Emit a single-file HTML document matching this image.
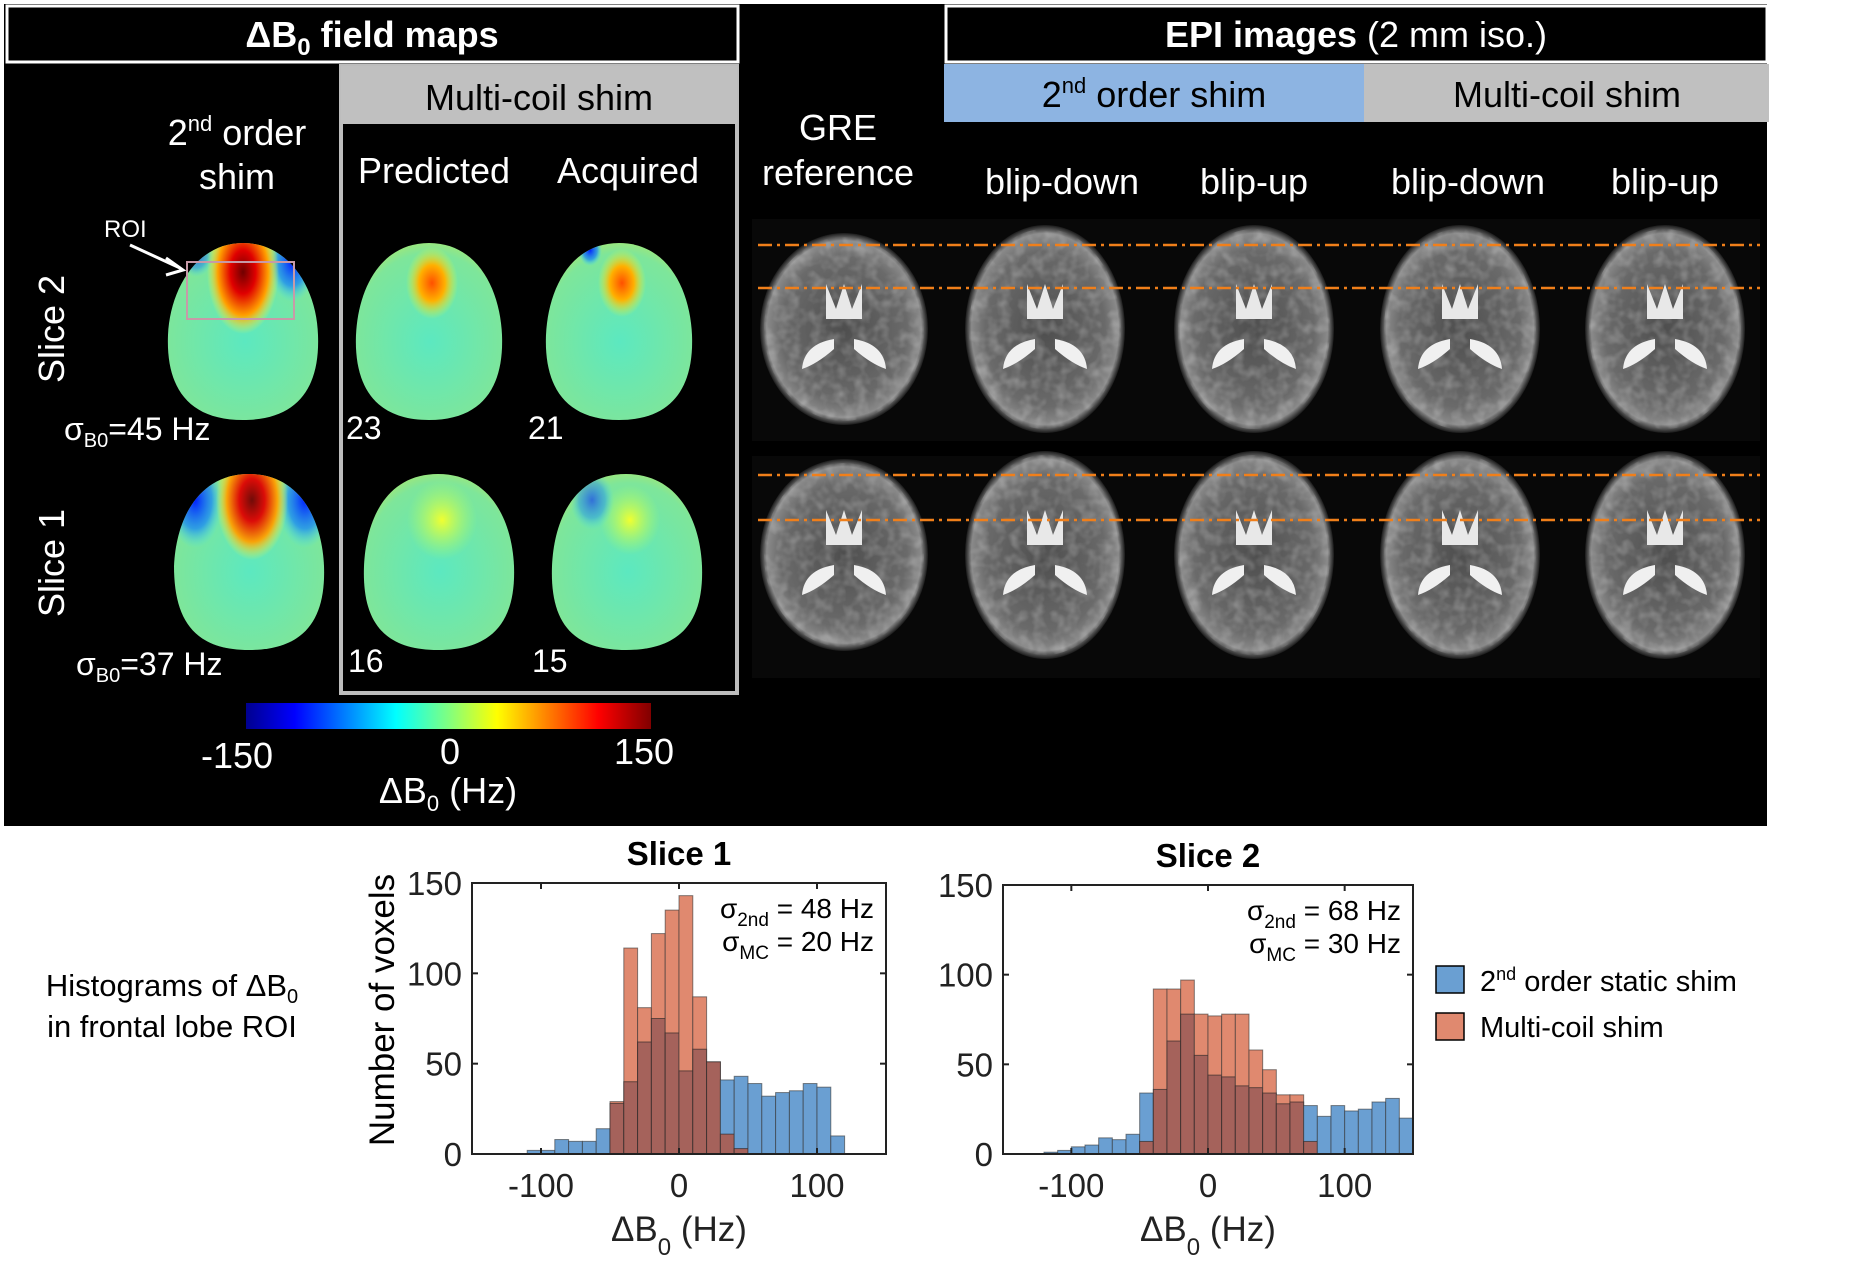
<!DOCTYPE html>
<html><head><meta charset="utf-8">
<style>
html,body{margin:0;padding:0;background:#fff;}
body{width:1854px;height:1262px;position:relative;overflow:hidden;font-family:"Liberation Sans",Arial,sans-serif;}
</style></head>
<body>
<svg width="1854" height="1262" viewBox="0 0 1854 1262" xmlns="http://www.w3.org/2000/svg" style="position:absolute;left:0;top:0" font-family="Liberation Sans, Arial, sans-serif">
<defs>
  <linearGradient id="jet" x1="0" x2="1" y1="0" y2="0">
    <stop offset="0" stop-color="#00008f"/><stop offset="0.12" stop-color="#0000ff"/>
    <stop offset="0.37" stop-color="#00ffff"/><stop offset="0.5" stop-color="#80ff80"/>
    <stop offset="0.62" stop-color="#ffff00"/><stop offset="0.87" stop-color="#ff0000"/>
    <stop offset="1" stop-color="#800000"/>
  </linearGradient>
  <radialGradient id="fmbase" cx="0.5" cy="0.55" r="0.6">
    <stop offset="0" stop-color="#5ce8c0"/><stop offset="0.8" stop-color="#7ee69a"/><stop offset="1" stop-color="#b8e860"/>
  </radialGradient>
  <radialGradient id="hot" cx="0.5" cy="0.5" r="0.5">
    <stop offset="0" stop-color="#700000"/><stop offset="0.35" stop-color="#e00000"/><stop offset="0.7" stop-color="#ffa000"/><stop offset="1" stop-color="#ffff40" stop-opacity="0"/>
  </radialGradient>
  <radialGradient id="warm" cx="0.5" cy="0.5" r="0.5">
    <stop offset="0" stop-color="#ff5000"/><stop offset="0.5" stop-color="#ffb000"/><stop offset="1" stop-color="#e0ff40" stop-opacity="0"/>
  </radialGradient>
  <radialGradient id="mild" cx="0.5" cy="0.5" r="0.5">
    <stop offset="0" stop-color="#f0ff30"/><stop offset="1" stop-color="#b0ff60" stop-opacity="0"/>
  </radialGradient>
  <radialGradient id="cold" cx="0.5" cy="0.5" r="0.5">
    <stop offset="0" stop-color="#0020ff"/><stop offset="0.6" stop-color="#1080ff" stop-opacity="0.7"/><stop offset="1" stop-color="#40e0ff" stop-opacity="0"/>
  </radialGradient>
  <radialGradient id="brain" cx="0.5" cy="0.5" r="0.5">
    <stop offset="0" stop-color="#4e4e4e"/><stop offset="0.75" stop-color="#6a6a6a"/><stop offset="0.92" stop-color="#8a8a8a"/><stop offset="1" stop-color="#1a1a1a"/>
  </radialGradient>
  <filter id="noise" x="0" y="0" width="100%" height="100%">
    <feTurbulence type="fractalNoise" baseFrequency="0.09" numOctaves="2" seed="3"/>
    <feColorMatrix type="matrix" values="0 0 0 0 1  0 0 0 0 1  0 0 0 0 1  1.4 0 0 0 -0.55"/>
    <feComposite in2="SourceGraphic" operator="in"/>
  </filter>
  <clipPath id="c1"><path d="M243,243 C290,243 317,290 318,335 C320,385 300,420 243,420 C186,420 166,385 168,335 C170,290 196,243 243,243Z"/></clipPath>
  <clipPath id="c2"><path d="M429,243 C478,243 500,290 502,335 C504,385 484,420 429,420 C374,420 354,385 356,335 C358,290 380,243 429,243Z"/></clipPath>
  <clipPath id="c3"><path d="M619,243 C668,243 690,290 692,335 C694,385 674,420 619,420 C564,420 544,385 546,335 C548,290 570,243 619,243Z"/></clipPath>
  <clipPath id="c4"><path d="M249,474 C300,474 322,520 324,566 C326,620 304,650 249,650 C194,650 174,620 174,566 C176,520 198,474 249,474Z"/></clipPath>
  <clipPath id="c5"><path d="M438,474 C490,474 512,520 514,566 C516,620 494,650 438,650 C382,650 362,620 364,566 C366,520 386,474 438,474Z"/></clipPath>
  <clipPath id="c6"><path d="M626,474 C678,474 700,520 702,566 C704,620 682,650 626,650 C570,650 550,620 552,566 C554,520 574,474 626,474Z"/></clipPath>
</defs>

<rect x="4" y="4" width="1763" height="822" fill="#000"/>
<rect x="7" y="6" width="731" height="56" fill="#000" stroke="#fff" stroke-width="3"/>
<text x="372" y="47" font-size="36" font-weight="bold" fill="#fff" text-anchor="middle">ΔB<tspan font-size="24" dy="8">0</tspan><tspan dy="-8"> field maps</tspan></text>
<rect x="946" y="6" width="821" height="56" fill="#000" stroke="#fff" stroke-width="3"/>
<text x="1356" y="47" font-size="36" fill="#fff" text-anchor="middle"><tspan font-weight="bold">EPI images</tspan> (2 mm iso.)</text>
<rect x="944" y="64" width="420" height="58" fill="#8db4e2"/>
<text x="1154" y="107" font-size="36" fill="#000" text-anchor="middle">2<tspan font-size="22" dy="-14">nd</tspan><tspan dy="14"> order shim</tspan></text>
<rect x="1364" y="64" width="405" height="58" fill="#c0c0c0"/>
<text x="1567" y="107" font-size="36" fill="#000" text-anchor="middle">Multi-coil shim</text>
<rect x="341" y="66" width="396" height="627" fill="none" stroke="#bdbdbd" stroke-width="4"/>
<rect x="341" y="66" width="396" height="58" fill="#c0c0c0"/>
<text x="539" y="110" font-size="36" fill="#000" text-anchor="middle">Multi-coil shim</text>

<g fill="#fff" font-size="36" text-anchor="middle">
<text x="237" y="145">2<tspan font-size="22" dy="-14">nd</tspan><tspan dy="14"> order</tspan></text>
<text x="237" y="189">shim</text>
<text x="434" y="183">Predicted</text>
<text x="628" y="183">Acquired</text>
<text x="838" y="140">GRE</text>
<text x="838" y="185">reference</text>
<text x="1062" y="194">blip-down</text>
<text x="1254" y="194">blip-up</text>
<text x="1468" y="194">blip-down</text>
<text x="1665" y="194">blip-up</text>
<text transform="translate(64,329) rotate(-90)">Slice 2</text>
<text transform="translate(64,563) rotate(-90)">Slice 1</text>
</g>
<g fill="#fff" font-size="32">
<text x="64" y="440">σ<tspan font-size="20" dy="7">B0</tspan><tspan dy="-7">=45 Hz</tspan></text>
<text x="76" y="675">σ<tspan font-size="20" dy="7">B0</tspan><tspan dy="-7">=37 Hz</tspan></text>
<text x="346" y="439">23</text><text x="528" y="439">21</text>
<text x="348" y="672">16</text><text x="532" y="672">15</text>
<text x="104" y="237" font-size="24">ROI</text>
</g>
<line x1="130" y1="245" x2="180" y2="268" stroke="#fff" stroke-width="3"/>
<polyline points="166,258 183,270 166,275" fill="none" stroke="#fff" stroke-width="3"/>

<g>
  <g clip-path="url(#c1)">
    <rect x="160" y="240" width="170" height="185" fill="url(#fmbase)"/>
    <ellipse cx="292" cy="262" rx="24" ry="40" fill="url(#cold)"/><ellipse cx="196" cy="255" rx="18" ry="22" fill="url(#cold)" opacity="0.7"/>
    <ellipse cx="243" cy="272" rx="36" ry="62" fill="url(#hot)"/>
  </g>
  <rect x="187" y="262" width="107" height="57" fill="none" stroke="#c79aa8" stroke-width="2"/>
  <g clip-path="url(#c2)">
    <rect x="350" y="240" width="160" height="185" fill="url(#fmbase)"/>
    <ellipse cx="432" cy="283" rx="26" ry="36" fill="url(#warm)"/>
  </g>
  <g clip-path="url(#c3)">
    <rect x="540" y="240" width="160" height="185" fill="url(#fmbase)"/>
    <ellipse cx="622" cy="283" rx="24" ry="34" fill="url(#warm)"/>
    <ellipse cx="590" cy="250" rx="12" ry="16" fill="url(#cold)"/>
  </g>
  <g clip-path="url(#c4)">
    <rect x="170" y="470" width="160" height="185" fill="url(#fmbase)"/>
    <ellipse cx="305" cy="500" rx="28" ry="48" fill="url(#cold)"/><ellipse cx="195" cy="500" rx="28" ry="48" fill="url(#cold)"/>
    <ellipse cx="252" cy="500" rx="36" ry="60" fill="url(#hot)" opacity="0.95"/>
  </g>
  <g clip-path="url(#c5)">
    <rect x="360" y="470" width="160" height="185" fill="url(#fmbase)"/>
    <ellipse cx="442" cy="520" rx="35" ry="40" fill="url(#mild)"/>
  </g>
  <g clip-path="url(#c6)">
    <rect x="548" y="470" width="160" height="185" fill="url(#fmbase)"/>
    <ellipse cx="630" cy="520" rx="30" ry="35" fill="url(#mild)"/>
    <ellipse cx="592" cy="500" rx="22" ry="30" fill="url(#cold)" opacity="0.6"/>
  </g>
</g>

<rect x="246" y="703" width="405" height="26" fill="url(#jet)"/>
<g fill="#fff" font-size="36" text-anchor="middle">
<text x="237" y="768">-150</text><text x="450" y="764">0</text><text x="644" y="764">150</text>
<text x="448" y="803">ΔB<tspan font-size="22" dy="8">0</tspan><tspan dy="-8">  (Hz)</tspan></text>
</g>

<g>
  <rect x="752" y="219" width="1008" height="222" fill="#080808"/>
  <rect x="752" y="456" width="1008" height="222" fill="#080808"/>
  <g id="brains"></g>
  <g stroke="#f07f1a" stroke-width="2.5" stroke-dasharray="14,5,3,5">
    <line x1="758" y1="245" x2="1760" y2="245"/><line x1="758" y1="288" x2="1760" y2="288"/>
    <line x1="758" y1="475" x2="1760" y2="475"/><line x1="758" y1="520" x2="1760" y2="520"/>
  </g>
</g>

<g font-size="31" fill="#000" text-anchor="middle">
<text x="172" y="996">Histograms of ΔB<tspan font-size="20" dy="7">0</tspan></text>
<text x="172" y="1037">in frontal lobe ROI</text>
</g>
<text transform="translate(394,1010) rotate(-90)" font-size="35" text-anchor="middle">Number of voxels</text>
<g id="hists"></g>

<g>
<rect x="1436" y="966" width="28" height="27" fill="#6a9fd2" stroke="#000" stroke-width="1.5"/>
<text x="1480" y="991" font-size="29">2<tspan font-size="18" dy="-11">nd</tspan><tspan dy="11"> order static shim</tspan></text>
<rect x="1436" y="1013" width="28" height="27" fill="#e0896f" stroke="#000" stroke-width="1.5"/>
<text x="1480" y="1037" font-size="29">Multi-coil shim</text>
</g>
</svg>

<script>
const binWidth = 10;
const s1BlueStart = -110;
const s1Blue = [2,2,8,7,7,14,28,40,62,75,67,46,58,51,41,43,39,32,34,35,39,37,10];
const s1OrangeStart = -50;
const s1Orange = [29,114,81,122,135,143,87,51,11,3];
const s2BlueStart = -120;
const s2Blue = [1,2,4,5,9,8,11,34,36,63,78,55,44,43,38,37,34,28,29,27,21,27,24,25,29,31,20];
const s2OrangeStart = -50;
const s2Orange = [7,92,92,97,78,77,78,78,58,47,33,33,7];
const xTicks = [-100,0,100];
const yTicks = [0,50,100,150];
const xMin = -150, xMax = 150, yMax = 150;

const NS = 'http://www.w3.org/2000/svg';
function mk(tag, attrs, parent){const e=document.createElementNS(NS,tag);for(const k in attrs)e.setAttribute(k,attrs[k]);parent.appendChild(e);return e;}

function drawHist(box, blueStart, blue, orangeStart, orange, title, sig1, sig2, name){
  const g = mk('g',{},document.getElementById('hists'));
  
  
  const sx = v => box.x + (v - xMin)/(xMax - xMin)*box.w;
  const sy = v => box.y + box.h - v/yMax*box.h;
  const val = (start, arr, e) => { const i = Math.round((e-start)/binWidth); return (i>=0 && i<arr.length) ? arr[i] : 0; };
  const edges = new Set();
  blue.forEach((v,i)=>edges.add(blueStart+i*binWidth));
  orange.forEach((v,i)=>edges.add(orangeStart+i*binWidth));
  [...edges].sort((a,b)=>a-b).forEach(e=>{
    const b = val(blueStart, blue, e), o = val(orangeStart, orange, e);
    const x0 = sx(e), x1 = sx(Math.min(e+binWidth, xMax));
    if (x1<=x0) return;
    const hi = Math.max(b,o), lo = Math.min(b,o);
    if (hi>0){
      const r = mk('rect',{x:x0,y:sy(hi),width:x1-x0,height:sy(0)-sy(hi),fill:b>o?'#6a9fd2':'#e0896f',stroke:'#333','stroke-width':1,'stroke-opacity':0.6},g);
      
      
    }
    if (lo>0){
      const r2 = mk('rect',{x:x0,y:sy(lo),width:x1-x0,height:sy(0)-sy(lo),fill:'#a5625b',stroke:'#222','stroke-width':1,'stroke-opacity':0.6},g);
      
      
    }
  });
  mk('rect',{x:box.x,y:box.y,width:box.w,height:box.h,fill:'none',stroke:'#222','stroke-width':2},g);
  xTicks.forEach(t=>{
    mk('line',{x1:sx(t),x2:sx(t),y1:box.y+box.h,y2:box.y+box.h-6,stroke:'#222','stroke-width':2},g);
    mk('line',{x1:sx(t),x2:sx(t),y1:box.y,y2:box.y+6,stroke:'#222','stroke-width':2},g);
    const tx = mk('text',{x:sx(t),y:box.y+box.h+43,'font-size':33,'text-anchor':'middle',fill:'#222'},g);
    tx.textContent = t;
    
    
  });
  yTicks.forEach(t=>{
    mk('line',{x1:box.x,x2:box.x+6,y1:sy(t),y2:sy(t),stroke:'#222','stroke-width':2},g);
    mk('line',{x1:box.x+box.w,x2:box.x+box.w-6,y1:sy(t),y2:sy(t),stroke:'#222','stroke-width':2},g);
    const ty = mk('text',{x:box.x-10,y:sy(t)+12,'font-size':33,'text-anchor':'end',fill:'#222'},g);
    ty.textContent = t;
    
    
  });
  const tt = mk('text',{x:box.x+box.w/2,y:box.y-18,'font-size':33,'font-weight':'bold','text-anchor':'middle'},g);
  tt.textContent = title;
  
  
  const xl = mk('text',{x:box.x+box.w/2,y:box.y+box.h+87,'font-size':35,'text-anchor':'middle',fill:'#222'},g);
  xl.innerHTML = 'ΔB<tspan font-size="24" dy="14">0</tspan><tspan dy="-14"> (Hz)</tspan>';
  
  
  const a1 = mk('text',{x:box.x+box.w-12,y:box.y+35,'font-size':28,'text-anchor':'end'},g);
  a1.innerHTML = 'σ<tspan font-size="19" dy="8">2nd</tspan><tspan dy="-8"> = '+sig1+' Hz</tspan>';
  
  
  const a2 = mk('text',{x:box.x+box.w-12,y:box.y+68,'font-size':28,'text-anchor':'end'},g);
  a2.innerHTML = 'σ<tspan font-size="19" dy="8">MC</tspan><tspan dy="-8"> = '+sig2+' Hz</tspan>';
  
  
}
drawHist({x:472,y:883,w:414,h:271}, s1BlueStart, s1Blue, s1OrangeStart, s1Orange, 'Slice 1', 48, 20, 'histogram-slice-1');
drawHist({x:1003,y:885,w:410,h:269}, s2BlueStart, s2Blue, s2OrangeStart, s2Orange, 'Slice 2', 68, 30, 'histogram-slice-2');

const bg = document.getElementById('brains');
const bx = [844,1045,1254,1460,1665];
const byc = [329,555];
byc.forEach(cy=>bx.forEach((cx,i)=>{
  const g = mk('g',{},bg);
  
  
  const rx = i==0?84:80, ry = i==0?96:104;
  mk('ellipse',{cx:cx,cy:cy,rx:rx,ry:ry,fill:'url(#brain)'},g);
  mk('ellipse',{cx:cx,cy:cy,rx:rx-4,ry:ry-4,fill:'#fff',filter:'url(#noise)',opacity:0.35},g);
  mk('path',{d:`M${cx-18},${cy-45} l10,25 l8,-25 l8,25 l10,-25 l0,35 l-36,0 Z`,fill:'#e8e8e8'},g);
  mk('path',{d:`M${cx-10},${cy+10} q-30,5 -32,30 q15,-5 32,-20 Z`,fill:'#f0f0f0'},g);
  mk('path',{d:`M${cx+10},${cy+10} q30,5 32,30 q-15,-5 -32,-20 Z`,fill:'#f0f0f0'},g);
}));
</script>
</body></html>
